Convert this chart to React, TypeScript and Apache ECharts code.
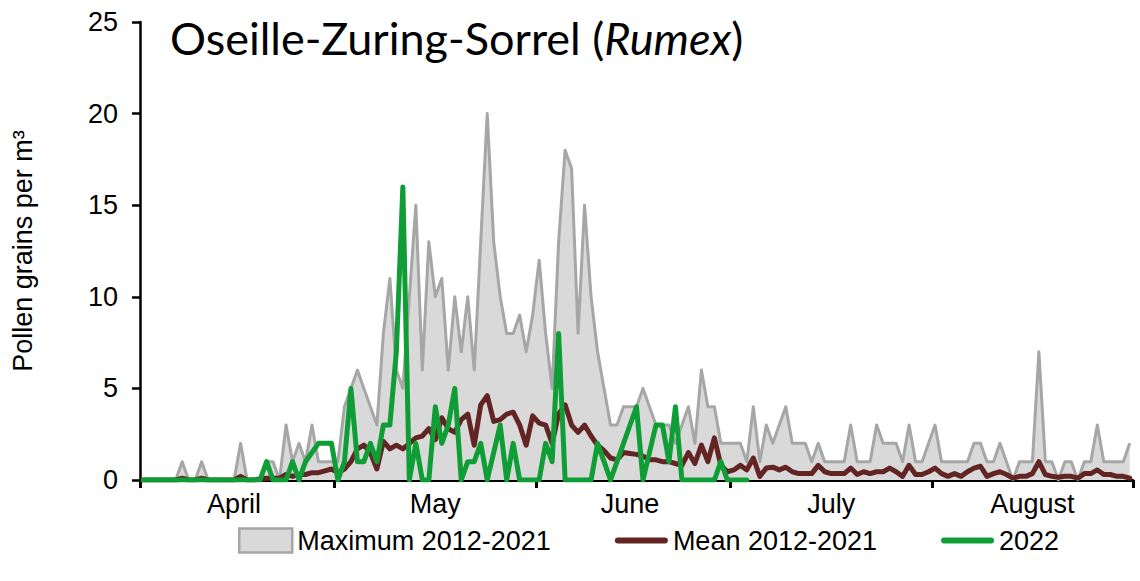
import React, { useEffect, useRef } from 'react';
import * as echarts from 'echarts';

const monthNames = ['April', 'May', 'June', 'July', 'August'];
const monthLengths = [30, 31, 30, 31, 31];

const maxValues = [
  0, 0, 0, 0, 0, 0, 1, 0, 0, 1,
  0, 0, 0, 0, 0, 2, 0, 0, 0, 1,
  1, 0, 3, 1, 2, 1, 3, 1, 1, 1,
  1, 4, 5, 6, 5, 4, 3, 8, 11, 6,
  5, 10, 15, 6, 13, 10, 11, 6, 10, 7,
  10, 6, 13, 20, 13, 10, 8, 8, 9, 7,
  9, 12, 8, 5, 13, 18, 17, 8, 15, 10,
  7, 5, 3, 3, 4, 4, 4, 5, 4, 3,
  3, 3, 2, 3, 4, 2, 6, 4, 4, 2,
  2, 2, 2, 1, 4, 1, 3, 2, 3, 4,
  2, 2, 2, 1, 2, 1, 1, 1, 1, 3,
  1, 1, 1, 3, 2, 2, 2, 1, 3, 1,
  1, 2, 3, 1, 1, 1, 1, 1, 2, 2,
  1, 1, 2, 1, 0, 1, 1, 1, 7, 1,
  1, 0, 1, 1, 0, 1, 1, 3, 1, 1,
  1, 1, 2,
];

const meanValues = [
  0, 0, 0, 0, 0, 0, 0.1, 0, 0, 0.1,
  0, 0, 0, 0, 0, 0.2, 0, 0, 0.05, 0.1,
  0.1, 0.1, 0.3, 0.2, 0.3, 0.3, 0.4, 0.4, 0.5, 0.6,
  0.4, 0.6, 1.0, 1.7, 1.9, 1.5, 0.6, 2.1, 1.7, 1.9,
  1.7, 2.0, 2.3, 2.4, 2.8, 2.2, 3.4, 2.8, 2.6, 3.3,
  3.6, 1.9, 4.1, 4.6, 3.2, 3.3, 3.6, 3.7, 3.0, 1.9,
  3.5, 3.1, 3.0, 2.0, 3.6, 4.1, 3.0, 2.6, 3.0, 2.4,
  1.9, 1.6, 1.2, 1.1, 1.5, 1.45, 1.4, 1.3, 1.1, 1.1,
  1.0, 1.0, 0.9, 0.8, 1.5, 0.9, 1.9, 1.0, 2.3, 0.8,
  0.45, 0.55, 0.8, 0.55, 1.2, 0.2, 0.65, 0.7, 0.55, 0.7,
  0.45, 0.35, 0.35, 0.35, 0.8, 0.45, 0.35, 0.35, 0.35, 0.65,
  0.3, 0.45, 0.35, 0.45, 0.45, 0.65, 0.45, 0.2, 0.8, 0.3,
  0.3, 0.45, 0.65, 0.35, 0.2, 0.35, 0.2, 0.45, 0.65, 0.75,
  0.2, 0.35, 0.45, 0.3, 0.1, 0.2, 0.2, 0.35, 1.0, 0.3,
  0.2, 0.15, 0.2, 0.2, 0.1, 0.35, 0.35, 0.55, 0.3, 0.3,
  0.2, 0.2, 0.1,
];

const values2022 = [
  0, 0, 0, 0, 0, 0, 0, 0, 0, 0,
  0, 0, 0, 0, 0, 0, 0, 0, 0, 1,
  0, 0, 0, 1, 0, 1, 1.5, 2, 2, 2,
  0, 1, 5, 1, 1, 2, 1, 3, 3, 7,
  16, 0, 2, 0, 0, 4, 2, 3, 5, 0,
  1, 1, 2, 0, 1.5, 3, 0, 2, 0, 0,
  0, 0, 2, 1, 8, 0, 0, 0, 0, 0,
  2, 1, 0, 1, 2, 3, 4, 0, 1.5, 3,
  3, 1, 4, 0, 0, 0, 0, 0, 0, 1,
  0, 0, 0, 0,
];

const yTicks = { min: 0, max: 25, interval: 5 };
const legendNames = ['Maximum 2012-2021', 'Mean 2012-2021', '2022'];

// Build day categories and month boundaries
const categories: string[] = [];
const monthStarts = new Set<number>();
const labelIndex = new Map<number, string>();
{
  let idx = 0;
  monthLengths.forEach((len, m) => {
    monthStarts.add(idx);
    labelIndex.set(Math.floor(idx + len / 2 - 0.5), monthNames[m]);
    for (let d = 1; d <= len; d++) {
      categories.push(`2022-${String(m + 4).padStart(2, '0')}-${String(d).padStart(2, '0')}`);
    }
    idx += len;
  });
}

const FONT = '"Liberation Sans", Arial, sans-serif';
const GREY_LINE = '#a6a6a6';
const GREY_FILL = '#d9d9d9';
const MEAN = '#632523';
const GREEN = '#0f9d36';
const LINE_ICON = 'path://M3,0 H50 A3,3 0 0 1 50,6 H3 A3,3 0 0 1 3,0 Z';

export default function App() {
  const ref = useRef<HTMLDivElement>(null);
  useEffect(() => {
    const chart = echarts.init(ref.current!, undefined, { renderer: 'svg' });
    chart.setOption({
      animation: false,
      backgroundColor: '#ffffff',
      title: {
        text: '{a|Oseille-Zuring-Sorrel (}{b|Rumex}{a|)}',
        left: 165,
        top: 10,
        textStyle: {
          fontWeight: 'normal',
          rich: {
            a: { fontFamily: 'Lato', fontSize: 45, fontWeight: 'normal', color: '#000' },
            b: { fontFamily: 'Lato', fontSize: 45, fontWeight: 'normal', fontStyle: 'italic', color: '#000' },
          },
        },
      },
      grid: { left: 140, right: 7, top: 22, bottom: 101 },
      legend: {
        left: 238,
        top: 527,
        padding: 0,
        itemWidth: 53,
        itemHeight: 24,
        itemGap: 64,
        selectedMode: false,
        textStyle: { fontSize: 27, color: '#000', fontFamily: FONT },
        data: [
          { name: legendNames[0], icon: 'rect', itemStyle: { color: GREY_FILL, borderColor: GREY_LINE, borderWidth: 2.5 } },
          { name: legendNames[1], icon: LINE_ICON, itemStyle: { color: MEAN, borderWidth: 0 } },
          { name: legendNames[2], icon: LINE_ICON, itemStyle: { color: GREEN, borderWidth: 0 } },
        ],
      },
      xAxis: {
        type: 'category',
        data: categories,
        boundaryGap: true,
        axisLine: { show: true, lineStyle: { color: '#000', width: 3 } },
        axisTick: {
          show: true,
          length: 8,
          interval: (i: number) => monthStarts.has(i),
          lineStyle: { color: '#000', width: 3 },
        },
        axisLabel: {
          interval: (i: number) => labelIndex.has(i),
          formatter: (v: string) => monthNames[parseInt(v.slice(5, 7), 10) - 4],
          fontSize: 27,
          color: '#000',
          fontFamily: FONT,
          margin: 10,
        },
        splitLine: { show: false },
      },
      yAxis: {
        type: 'value',
        min: yTicks.min,
        max: yTicks.max,
        interval: yTicks.interval,
        name: 'Pollen grains per m³',
        nameLocation: 'middle',
        nameRotate: 90,
        nameGap: 104,
        nameTextStyle: { fontSize: 27, color: '#000', fontFamily: FONT },
        axisLine: { show: true, lineStyle: { color: '#000', width: 2.5 } },
        axisTick: { show: true, length: 8, lineStyle: { color: '#000', width: 2.5 } },
        axisLabel: { fontSize: 27, color: '#000', fontFamily: FONT, margin: 22 },
        splitLine: { show: false },
      },
      series: [
        {
          name: legendNames[0],
          type: 'line',
          data: maxValues,
          symbol: 'none',
          z: 2,
          lineStyle: { color: GREY_LINE, width: 3, join: 'round' },
          itemStyle: { color: GREY_LINE },
          areaStyle: { color: GREY_FILL, opacity: 1 },
        },
        {
          name: legendNames[1],
          type: 'line',
          data: meanValues,
          symbol: 'none',
          z: 3,
          lineStyle: { color: MEAN, width: 5, join: 'round', cap: 'round' },
          itemStyle: { color: MEAN },
        },
        {
          name: legendNames[2],
          type: 'line',
          data: values2022,
          symbol: 'none',
          z: 4,
          lineStyle: { color: GREEN, width: 5, join: 'round', cap: 'round' },
          itemStyle: { color: GREEN },
        },
      ],
    });
    return () => chart.dispose();
  }, []);
  return (
    <div
      ref={ref}
      style={{ position: 'absolute', left: 0, top: 0, width: 1140, height: 581 }}
    />
  );
}
